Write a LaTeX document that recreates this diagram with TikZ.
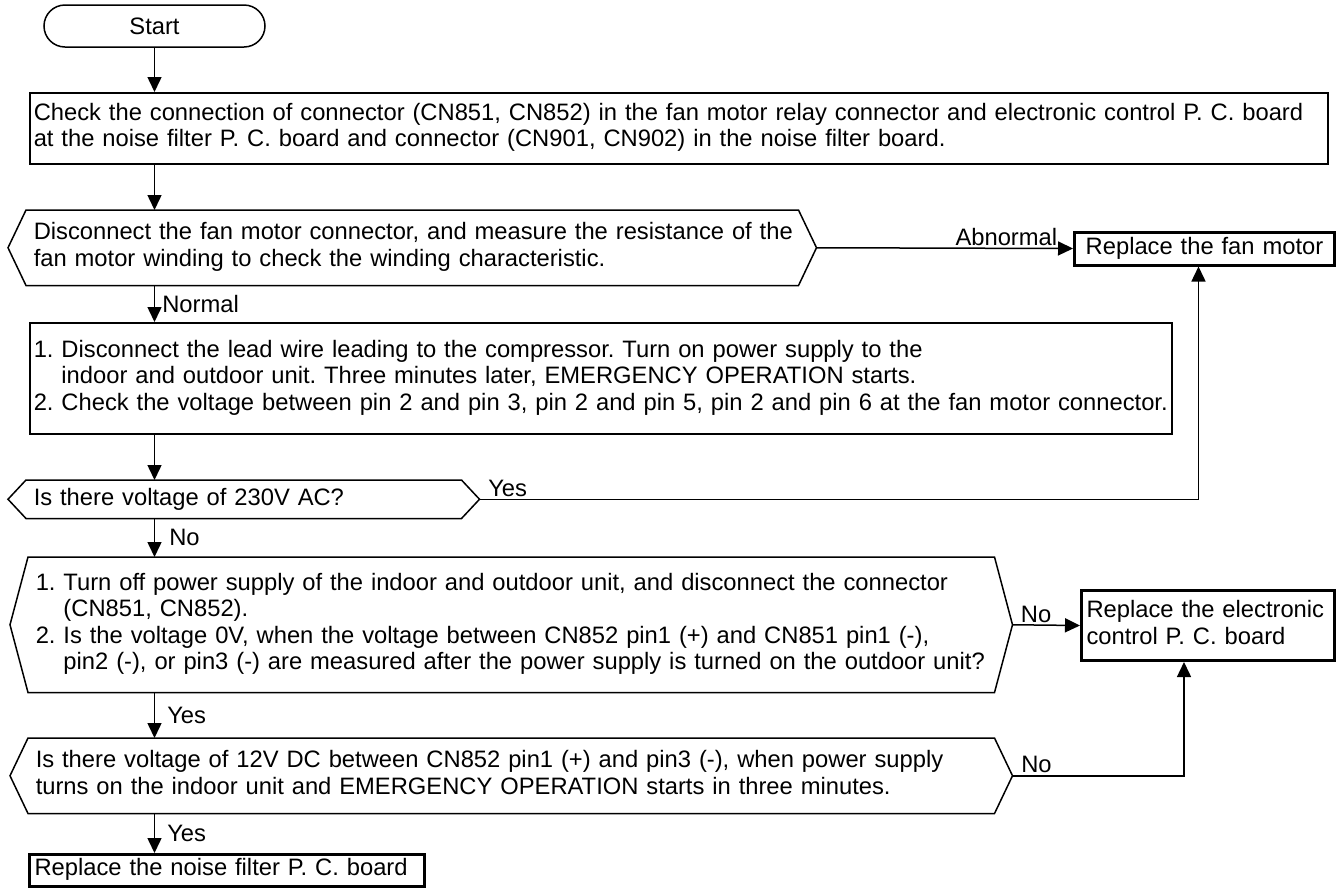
\documentclass[tikz,border=0pt]{standalone}
\usepackage{fontspec}
\setmainfont{Liberation Sans}
\usepackage{tikz}
\usetikzlibrary{arrows.meta,positioning,calc}

\newcommand{\txtlines}[1]{\begin{tabular}{@{}l@{}}#1\end{tabular}}
\newcommand{\numlines}[1]{\begin{tabular}{@{}l@{\ }l@{}}#1\end{tabular}}

\tikzset{
  flow/.style={x=1pt, y=-1pt, line width=1.5pt, font=\fontsize{23.75}{26.5}\selectfont\frenchspacing},
  box/.style={draw, rectangle, anchor=north west, align=left, inner xsep=4pt, inner ysep=0pt},
  hexbox/.style={rectangle, anchor=north west, align=left, inner xsep=7pt, inner ysep=0pt},
  endbox/.style={draw, rectangle, line width=3pt, anchor=north west, align=left, inner xsep=5pt, inner ysep=0pt},
  arr/.style={-{Triangle[length=15pt,width=14pt]}, line width=1.5pt},
  lbl/.style={inner sep=2pt}
}

\begin{document}
\begin{tikzpicture}[flow]
    \useasboundingbox (0,0) rectangle (1341,887);

    % Start
    \node[draw, rounded corners=21pt, minimum width=221pt, minimum height=42pt] (start) at (154.5,26) {Start};

    % Check connectors
    \node[box, text width=1290pt, minimum height=71pt] (chk) at (29,92)
        {\txtlines{Check the connection of connector (CN851, CN852) in the fan motor relay connector and electronic control P. C. board\\
         at the noise filter P. C. board and connector (CN901, CN902) in the noise filter board.}};

    % Winding check
    \node[hexbox, text width=757pt, minimum height=74pt] (dis) at (26,210)
        {\txtlines{Disconnect the fan motor connector, and measure the resistance of the\\
         fan motor winding to check the winding characteristic.}};

    \node[endbox, text width=250pt, minimum height=33pt, align=center] (fan) at (1073,230.5) {Replace the fan motor};

    % Voltage at fan motor connector
    \node[box, text width=1134pt, minimum height=111pt] (lead) at (29,322)
        {\numlines{1. & Disconnect the lead wire leading to the compressor. Turn on power supply to the\\
         & indoor and outdoor unit. Three minutes later, EMERGENCY OPERATION starts.\\
         2. & Check the voltage between pin 2 and pin 3, pin 2 and pin 5, pin 2 and pin 6 at the fan motor connector.}};

    \node[hexbox, text width=420pt, minimum height=37pt] (v230) at (26,480) {Is there voltage of 230V AC?};

    % Connector CN851/CN852
    \node[hexbox, text width=951pt, minimum height=134pt] (off) at (28,557)
        {\numlines{1. & Turn off power supply of the indoor and outdoor unit, and disconnect the connector\\
         & (CN851, CN852).\\
         2. & Is the voltage 0V, when the voltage between CN852 pin1 (+) and CN851 pin1 (-),\\
         & pin2 (-), or pin3 (-) are measured after the power supply is turned on the outdoor unit?}};

    \node[endbox, text width=243pt, minimum height=70pt] (ecb) at (1080,589)
        {\txtlines{Replace the electronic\\ control P. C. board}};

    \node[hexbox, text width=951pt, minimum height=74pt] (v12) at (28,738)
        {\txtlines{Is there voltage of 12V DC between CN852 pin1 (+) and pin3 (-), when power supply\\
         turns on the indoor unit and EMERGENCY OPERATION starts in three minutes.}};

    \node[endbox, text width=385pt, minimum height=32pt] (nf) at (28,853) {\txtlines{Replace the noise filter P. C. board}};

    % hexagon outlines
    \foreach \h in {dis,v230,off,v12}{
        \draw ($(\h.west)+(-18,0)$) coordinate (\h-l) -- (\h.north west) -- (\h.north east)
            -- ($(\h.east)+(18,0)$) coordinate (\h-r) -- (\h.south east) -- (\h.south west) -- cycle;
    }

    % main line
    \draw[arr] (start.south) -- (chk.north -| start.south);
    \draw[arr] (chk.south -| start.south) -- (dis.north -| start.south);
    \draw[arr] (dis.south -| start.south) -- node[lbl, right, xshift=5pt] (nrm) {Normal} (lead.north -| start.south);
    \draw[arr] (lead.south -| start.south) -- (v230.north -| start.south);
    \draw[arr] (v230.south -| start.south) -- node[lbl, right, xshift=12pt] (no1) {No} (off.north -| start.south);
    \draw[arr] (off.south -| start.south) -- node[lbl, right, xshift=10pt] (yes2) {Yes} (v12.north -| start.south);
    \draw[arr] (v12.south -| start.south) -- node[lbl, right, xshift=10pt] (yes3) {Yes} (nf.north -| start.south);

    % side branches
    \draw[arr] (dis-r) -- node[lbl, above, pos=0.74] (abn) {Abnormal} (fan.west);
    \draw[arr] (v230-r) -| node[lbl, above right, pos=0, xshift=6pt] (yes1) {Yes} ([xshift=-6pt]fan.south);
    \draw[arr] (off-r) -- node[lbl, above, pos=0.35] (no2) {No} (ecb.west);
    \draw[arr] (v12-r) -| node[lbl, above right, pos=0, xshift=6pt] (no3) {No} ([xshift=-24pt]ecb.south);
\end{tikzpicture}
\end{document}
